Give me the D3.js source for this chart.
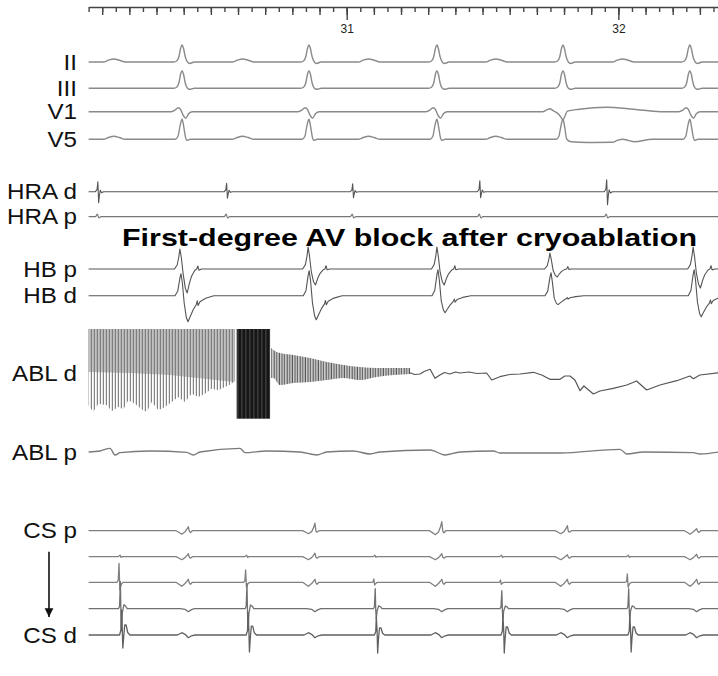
<!DOCTYPE html>
<html>
<head>
<meta charset="utf-8">
<script src="https://cdn.jsdelivr.net/npm/d3@7"></script>
<style>
  body { margin: 0; background: #fff; }
  svg { display: block; }
</style>
</head>
<body>
<div id="chart"></div>
<script>
// ---- time axis (seconds) ----
const startSec = 30.05, endSec = 32.37;
const secLabels = [31, 32];

// ---- activation times (s) ----
const atrialHRA = [30.085, 30.559, 31.023, 31.491, 31.958];
const ventSurface = [30.394, 30.861, 31.332, 31.796, 32.263];
const ventHB = [30.386, 30.858, 31.332, 31.748, 32.275];
const ventCS = [30.417, 30.883, 31.350, 31.812, 32.288];
const atrialCS = [30.172, 30.638, 31.110, 31.576, 32.043];

// ---- complex shapes: [ms from activation, amplitude] ----
const pWave = [[20,0],[38,1.8],[58,3],[78,1.8],[100,0]];
const qrsII = [[-30,0],[-20,1],[-12,5],[-5,14],[0,17],[5,14],[12,5],[20,0],[28,-1.5],[45,0]];
const qrsIII = [[-30,0],[-20,1],[-12,5],[-5,14.5],[0,17.6],[5,14.5],[12,5],[20,0],[28,-1],[45,0]];
const qrsV1 = [[-40,0],[-26,1.5],[-14,4],[-5,2],[3,-3],[14,-6.5],[24,-2],[38,0]];
const qrsV1b4 = [[-75,0],[-58,2],[-48,3],[-36,1],[-14,-3],[0,-8],[8,-4],[16,0.5],[60,2.5],[160,4.5],[260,2.5],[360,0]];
const qrsV5 = [[-25,0],[-15,3],[-7,14],[0,20],[6,13],[12,3],[18,-1],[30,0]];
const qrsV5b4 = [[-25,0],[-15,3],[-7,14],[0,20],[6,13],[14,0],[30,-2.5],[90,-3.2],[250,-2.8],[330,0]];

const hraSpike = [[-10,0],[-4,0.2],[-1,1],[2,-1],[5,-0.3],[8,0.15],[13,-0.1],[20,0]];
const hraUp = [10, 8.5, 8, 11, 12];
const hraDown = [11, 6.5, 6, 6, 13];
const hraPBlip = [[-10,0],[-3,1],[3,-0.5],[10,0]];

const hbpShape = [[-20,0],[-10,0.2],[-4,0.6],[0,1],[5,0.6],[12,-0.2],[20,-0.8],[27,-1],[35,-0.6],[43,-0.3],[55,-0.05],[62,0],[66,0.15],[70,-0.05],[80,0]];
const hbpUp = [20, 22, 22, 16, 22];
const hbpDown = [24, 16, 16, 8, 19];
const hbdShape = [[-18,0],[-8,0.2],[0,0.8],[4,1],[9,0.6],[16,-0.3],[24,-0.85],[30,-1],[38,-0.8],[49,-0.54],[60,-0.35],[64,-0.2],[67,-0.38],[74,-0.23],[95,-0.1],[125,0]];
const hbdUp = [22, 25, 26, 23, 26];
const hbdDown = [26, 24, 17, 9, 21];

const csFarV = [[-45,0],[-32,-0.6],[-24,-1],[-12,-0.3],[-4,0.5],[0,1],[4,-0.2],[8,-0.5],[15,0]];
const cs4FarV = [[-30,0],[-12,-0.2],[0,-1],[10,-0.4],[22,0]];
const csdFarV = [[-40,0],[-24,1],[-12,0.3],[0,-1],[12,-0.3],[25,0]];
const cspUp = [4, 7.5, 9, 5, 2];
const cspDown = [3.5, 3, 4, 3, 3.5];
const cs2Up = [3, 3.5, 3, 2, 2.5];
const cs2Down = [3, 3, 3, 3, 3];

const cs2A = [[-14,0],[-9,0.6],[-6,1],[-3,-0.6],[2,0]];
const cs3A = [[-8,0],[-3,0.1],[0,1],[3,-1],[6,-0.5],[10,-0.15],[16,0]];
const cs3Up = [19, 12.3, 3.3, 2.3, 8.3];
const cs3Down = [7.7, 5, 2.7, 2, 5];
const cs4A = [[-8,0],[-4,0.1],[-1,1],[1,-0.2],[3,-1],[6,-0.2],[12,0.15],[18,0.1],[24,0]];
const cs4Up = [27, 25, 20, 18, 20];
const cs4Down = [22, 22, 10, 10, 10];
const csdA = [[-8,0],[-3,0.2],[-1,1],[2,0.2],[4,-1],[7,-0.2],[11,0.4],[16,0.4],[22,0.1],[30,0]];
const csdUp = [25, 22, 18, 20, 20];
const csdDown = [13, 17, 18, 18, 17];

// ---- ablation catheter ----
const ablClip = 44;
const ablBurstBottom = [[30.05,-32.3],[30.067,-39],[30.086,-30.7],[30.117,-32.3],[30.135,-38.3],[30.159,-34],[30.178,-36.3],[30.196,-27.3],[30.221,-30.7],[30.245,-36.3],[30.264,-39],[30.282,-29],[30.307,-37.3],[30.331,-34],[30.356,-29],[30.380,-24],[30.405,-29],[30.429,-20.7],[30.454,-24],[30.478,-20.7],[30.503,-15.7],[30.527,-17.3],[30.552,-14],[30.577,-10.7],[30.589,-7]];
const ablBurstCore = [[30.05,1],[30.2,0],[30.35,-2],[30.45,-5],[30.589,-9]];
const ablSaturated = [30.595, 30.718];
const ablSatBottom = -45.7;
const ablDecay = [[30.722,25,-5],[30.73,23,-5],[30.754,20,-12],[30.803,18,-10],[30.865,15,-9],[30.926,11,-7],[30.987,8,-5],[31.049,6,-7],[31.110,5,-4],[31.171,5,-2],[31.233,5,-1]];
const ablTail = [[31.233,0.3],[31.250,-1.5],[31.270,-1],[31.285,1.5],[31.307,3.7],[31.325,-5.3],[31.343,-2],[31.36,0.5],[31.38,-1],[31.40,1],[31.417,0],[31.45,1],[31.48,-0.5],[31.515,0],[31.534,-7],[31.564,-3.7],[31.6,-1.5],[31.638,-1],[31.687,0.7],[31.718,-2],[31.748,-6.3],[31.785,-6.3],[31.803,-3],[31.822,-3],[31.840,-7],[31.859,-17.7],[31.873,-13],[31.908,-21],[31.932,-18],[31.981,-15.3],[32.031,-12],[32.067,-8],[32.104,-17],[32.153,-12],[32.215,-7.7],[32.263,-3],[32.276,-5.7],[32.300,-2],[32.37,0.3]];
const ablP = [[30.05,0],[30.092,1],[30.129,3.7],[30.147,-3],[30.166,-0.7],[30.276,1],[30.411,-0.3],[30.435,-3],[30.460,0],[30.607,3.7],[30.626,-0.7],[30.706,1],[30.828,0],[30.890,-3],[30.926,0],[31.024,1],[31.086,-2],[31.123,0],[31.307,2],[31.362,-3],[31.417,0],[31.540,1],[31.564,-1],[31.785,-1],[32.006,2.7],[32.031,-2],[32.092,0],[32.276,-0.7],[32.300,-2],[32.37,0]];

const rowLabels = ["II","III","V1","V5","HRA d","HRA p","HB p","HB d","ABL d","ABL p","CS p","","","","CS d"];
const title = "First-degree AV block after cryoablation";

// ---- layout ----
const W = 718, H = 676;
const rowY = [62, 88.3, 111.7, 139.3, 191.7, 216.7, 269, 295.7, 373, 452, 530.7, 556.7, 582.3, 608.7, 635];

const x = d3.scaleLinear().domain([startSec, endSec]).range([88.6, 718.9]);
const amp = d3.scaleLinear().domain([-1, 1]).range([1, -1]);

const svg = d3.select("#chart").append("svg")
  .attr("width", W).attr("height", H)
  .style("font-family", "'Liberation Sans', Arial, sans-serif");

// place a complex at every activation time
function place(times, shape, up, down, shiftMs) {
  return times.map((t0, i) => {
    const s = Array.isArray(shape[0][0]) ? shape[i] : shape;
    const u = Array.isArray(up) ? up[i] : up;
    const dn = Array.isArray(down) ? down[i] : down;
    return s.map(([ms, v]) => [t0 + (ms + (shiftMs || 0)) / 1000, v >= 0 ? v * u : v * dn]);
  });
}
function valueAt(c, t) {
  if (t <= c[0][0] || t >= c[c.length - 1][0]) return 0;
  const i = d3.bisector(p => p[0]).right(c, t);
  const a = c[i - 1], b = c[i];
  return a[1] + (b[1] - a[1]) * (t - a[0]) / (b[0] - a[0]);
}
function trace(comps) {
  const ts = [startSec, endSec];
  comps.forEach(c => c.forEach(p => ts.push(p[0])));
  const uniq = Array.from(new Set(ts)).filter(t => t >= startSec && t <= endSec).sort((a, b) => a - b);
  return uniq.map(t => [t, d3.sum(comps, c => valueAt(c, t))]);
}

const channels = [
  { comps: [...place(ventSurface, qrsII, 1, 1), ...place(atrialHRA, pWave, 1, 1)], color: "#8a8a8a", w: 1.4, smooth: true },
  { comps: place(ventSurface, qrsIII, 1, 1), color: "#8a8a8a", w: 1.4, smooth: true },
  { comps: place(ventSurface, [qrsV1, qrsV1, qrsV1, qrsV1b4, qrsV1], 1, 1), color: "#8a8a8a", w: 1.4, smooth: true },
  { comps: [...place(ventSurface, [qrsV5, qrsV5, qrsV5, qrsV5b4, qrsV5], 1, 1), ...place(atrialHRA, pWave, 1, 1)], color: "#8a8a8a", w: 1.4, smooth: true },
  { comps: place(atrialHRA, hraSpike, hraUp, hraDown), color: "#555", w: 1.1 },
  { comps: place(atrialHRA, hraPBlip, 2.5, 2.5), color: "#777", w: 1.2, smooth: true },
  { comps: place(ventHB, hbpShape, hbpUp, hbpDown), color: "#555", w: 1.1 },
  { comps: place(ventHB, hbdShape, hbdUp, hbdDown), color: "#555", w: 1.1 },
  null,
  null,
  { comps: place(ventCS, csFarV, cspUp, cspDown), color: "#808080", w: 1.3 },
  { comps: [...place(ventCS, csFarV, cs2Up, cs2Down), ...place(atrialCS, cs2A, 1.5, 1)], color: "#808080", w: 1.3 },
  { comps: [...place(ventCS, csFarV, 3, 4), ...place(atrialCS, cs3A, cs3Up, cs3Down, -10)], color: "#808080", w: 1.3 },
  { comps: [...place(ventCS, cs4FarV, 3, 3), ...place(atrialCS, cs4A, cs4Up, cs4Down, -4)], color: "#707070", w: 1.3 },
  { comps: [...place(ventCS, csdFarV, 2.3, 2.7), ...place(atrialCS, csdA, csdUp, csdDown)], color: "#606060", w: 1.3 }
];

const lineSharp = d3.line().x(d => x(d[0])).y(d => amp(d[1]));
const lineSmooth = d3.line().x(d => x(d[0])).y(d => amp(d[1])).curve(d3.curveMonotoneX);

// ---- patterns for the ablation artefact ----
const defs = svg.append("defs");
const p1 = defs.append("pattern").attr("id", "burst").attr("patternUnits", "userSpaceOnUse")
  .attr("width", 3).attr("height", 20);
p1.append("rect").attr("x", 0.8).attr("width", 1.1).attr("height", 20).attr("fill", "#777");
const p2 = defs.append("pattern").attr("id", "sat").attr("patternUnits", "userSpaceOnUse")
  .attr("width", 4).attr("height", 20);
p2.append("rect").attr("width", 4).attr("height", 20).attr("fill", "#161616");
p2.append("rect").attr("x", 1.5).attr("width", 0.8).attr("height", 20).attr("fill", "#5a5a5a");
const p3 = defs.append("pattern").attr("id", "decay").attr("patternUnits", "userSpaceOnUse")
  .attr("width", 2.6).attr("height", 20);
p3.append("rect").attr("x", 0.6).attr("width", 1.1).attr("height", 20).attr("fill", "#555");

// ---- axis ----
const axisG = svg.append("g").attr("transform", "translate(0,7)").attr("color", "#444");
const minor = d3.range(Math.round(startSec * 20), Math.round(endSec * 20) + 1).map(d => d / 20);
axisG.append("g")
  .call(d3.axisBottom(x).tickValues(minor).tickSize(5).tickSizeOuter(0).tickFormat(""))
  .call(g => g.select(".domain").attr("stroke-width", 1.6));
axisG.append("g")
  .call(d3.axisBottom(x).tickValues(minor.filter(d => Math.round(d * 20) % 2 === 0)).tickSize(8).tickSizeOuter(0).tickFormat(""))
  .call(g => g.select(".domain").remove());
axisG.append("g")
  .call(d3.axisBottom(x).tickValues(secLabels).tickSize(13).tickPadding(4).tickFormat(d3.format("d")))
  .call(g => g.select(".domain").remove())
  .call(g => g.selectAll("text").attr("font-size", 12).attr("fill", "#222")
    .attr("font-family", "'Liberation Sans', Arial, sans-serif"));
axisG.selectAll(".tick line").attr("stroke-width", 1.4);

// ---- traces ----
channels.forEach((ch, i) => {
  if (!ch) return;
  svg.append("path")
    .attr("transform", `translate(0,${rowY[i]})`)
    .attr("d", (ch.smooth ? lineSmooth : lineSharp)(trace(ch.comps)))
    .attr("fill", "none").attr("stroke", ch.color).attr("stroke-width", ch.w)
    .attr("stroke-linejoin", "round");
});

// ablation distal
const abl = svg.append("g").attr("transform", `translate(0,${rowY[8]})`);
abl.append("path")
  .attr("d", d3.area().x(d => x(d[0])).y0(d => amp(d[1])).y1(amp(ablClip))(ablBurstCore))
  .attr("fill", "#c2c2c2");
abl.append("path")
  .attr("d", d3.area().x(d => x(d[0])).y0(d => amp(d[1])).y1(amp(ablClip))(ablBurstBottom))
  .attr("fill", "url(#burst)");
abl.append("rect")
  .attr("x", x(ablSaturated[0])).attr("width", x(ablSaturated[1]) - x(ablSaturated[0]))
  .attr("y", amp(ablClip)).attr("height", amp(ablSatBottom) - amp(ablClip))
  .attr("fill", "url(#sat)");
abl.append("path")
  .attr("d", d3.area().x(d => x(d[0])).y0(d => amp(d[2])).y1(d => amp(d[1])).curve(d3.curveMonotoneX)(ablDecay))
  .attr("fill", "#d2d2d2");
abl.append("path")
  .attr("d", d3.area().x(d => x(d[0])).y0(d => amp(d[2])).y1(d => amp(d[1])).curve(d3.curveMonotoneX)(ablDecay))
  .attr("fill", "url(#decay)");
abl.append("path")
  .attr("d", lineSharp(ablTail))
  .attr("fill", "none").attr("stroke", "#555").attr("stroke-width", 1.2).attr("stroke-linejoin", "round");

// ablation proximal
svg.append("path")
  .attr("transform", `translate(0,${rowY[9]})`)
  .attr("d", lineSmooth(ablP))
  .attr("fill", "none").attr("stroke", "#7a7a7a").attr("stroke-width", 1.3);

// ---- labels ----
svg.append("g").selectAll("text").data(rowLabels.map((t, i) => ({ t, y: rowY[i] })).filter(d => d.t))
  .join("text")
  .attr("transform", d => `translate(77,${d.y + 7.5}) scale(1.1,1)`)
  .attr("text-anchor", "end").attr("font-size", 22).attr("fill", "#111")
  .text(d => d.t);

// CS arrow
defs.append("marker").attr("id", "arr").attr("viewBox", "0 0 10 10").attr("refX", 10).attr("refY", 5)
  .attr("markerWidth", 5.5).attr("markerHeight", 6.5).attr("markerUnits", "strokeWidth").attr("orient", "auto")
  .append("path").attr("d", "M0,0L10,5L0,10Z").attr("fill", "#111");
svg.append("line")
  .attr("x1", 49).attr("x2", 49).attr("y1", rowY[10] + 21).attr("y2", rowY[14] - 18)
  .attr("stroke", "#111").attr("stroke-width", 1.6).attr("marker-end", "url(#arr)");

// ---- title ----
svg.append("text")
  .attr("x", 122).attr("y", 246)
  .attr("font-size", 24).attr("font-weight", "bold").attr("fill", "#000")
  .attr("textLength", 575).attr("lengthAdjust", "spacingAndGlyphs")
  .text(title);
</script>
</body>
</html>
